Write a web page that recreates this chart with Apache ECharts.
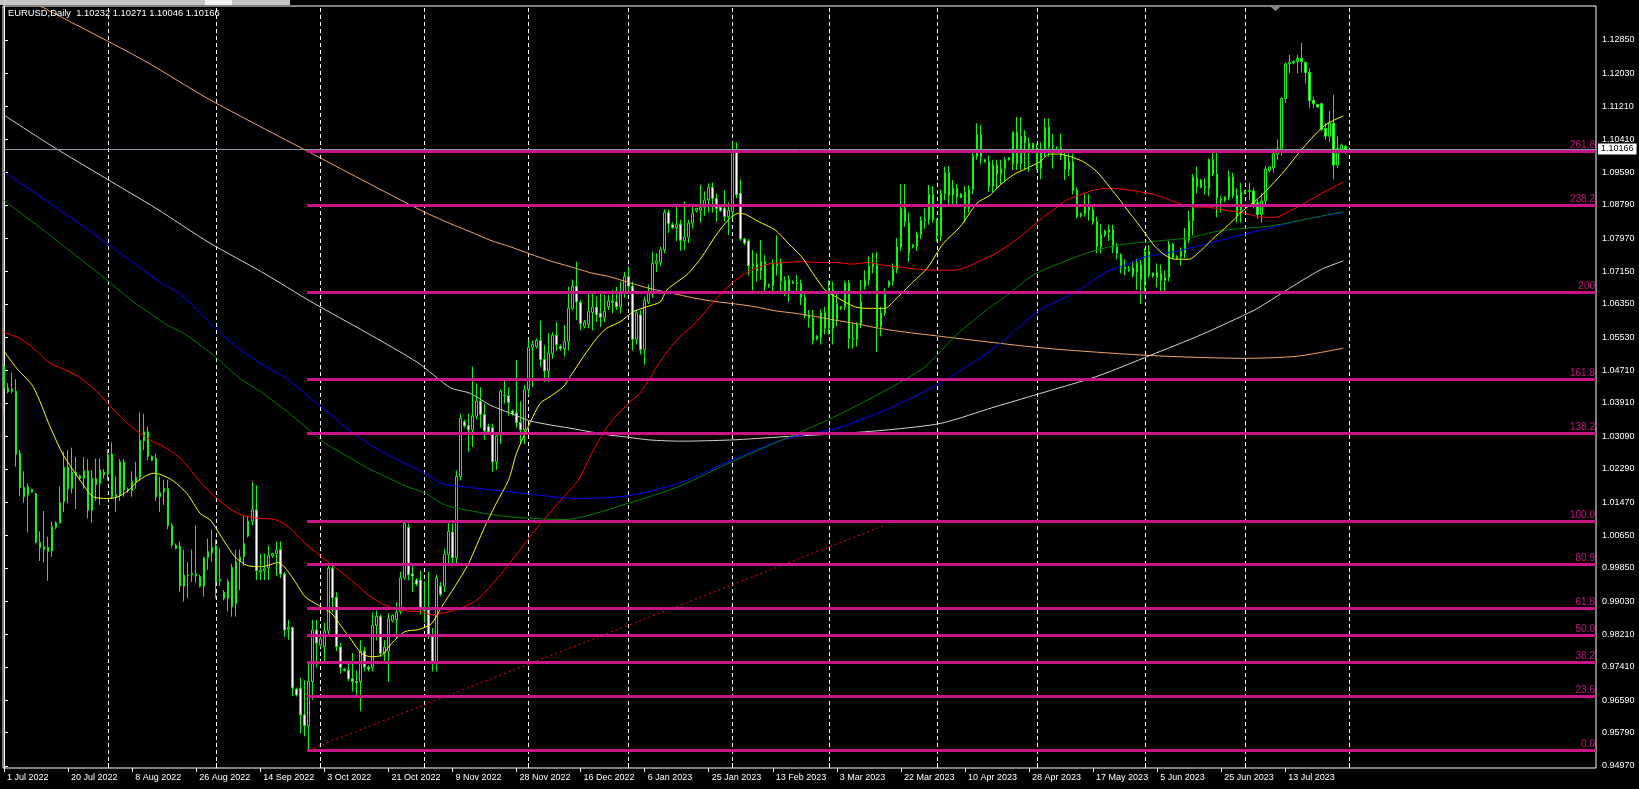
<!DOCTYPE html>
<html><head><meta charset="utf-8">
<script src="https://cdn.jsdelivr.net/npm/echarts@6/dist/echarts.min.js"></script>
<style>html,body{margin:0;padding:0;background:#000;overflow:hidden}#c{width:1639px;height:789px;}</style>
</head><body><div id="c"></div>
<script>
const chartTitle = 'EURUSD,Daily  1.10232 1.10271 1.10046 1.10166';
const currentPrice = 1.10166;
const dateLabels = ['1 Jul 2022','20 Jul 2022','8 Aug 2022','26 Aug 2022','14 Sep 2022','3 Oct 2022','21 Oct 2022','9 Nov 2022','28 Nov 2022','16 Dec 2022','6 Jan 2023','25 Jan 2023','13 Feb 2023','3 Mar 2023','22 Mar 2023','10 Apr 2023','28 Apr 2023','17 May 2023','5 Jun 2023','25 Jun 2023','13 Jul 2023'];
const dateLabelIndex = [0,16,32,48,64,80,96,112,128,144,160,176,192,208,224,240,256,272,288,304,320];
const monthStartIndex = [26,53,79,105,131,156,182,206,233,258,285,310,336];
const priceTicks = [1.12850,1.12030,1.11210,1.10410,1.09590,1.08790,1.07970,1.07150,1.06350,1.05530,1.04710,1.03910,1.03090,1.02290,1.01470,1.00650,0.99850,0.99030,0.98210,0.97410,0.96590,0.95790,0.94970];
const fibLevels = [0.95362,0.96692,0.97522,0.98187,0.98843,0.99936,1.00986,1.0317,1.0450,1.06636,1.08769,1.10116];
const fibNames = ['0.0','23.6','38.2','50.0','61.8','80.9','100.0','138.2','161.8','200','238.2','261.8'];
const fibStartIndex = 75.7;
const trendLine = [[76,0.95362],[219.5,1.0088]];
// daily bars: [open, high, low, close]
const ohlc = [
[1.0482,1.0486,1.0366,1.0427],[1.0427,1.0440,1.0415,1.0419],[1.0420,1.0466,1.0415,1.0425],[1.0420,1.0450,1.0234,1.0265],[1.0267,1.0275,1.0162,1.0183],[1.0183,1.0223,1.0145,1.0160],[1.0164,1.0193,1.0072,1.0185],[1.0178,1.0180,1.0170,1.0172],
[1.0168,1.0170,1.0045,1.0048],[1.0048,1.0075,1.0002,1.0035],[1.0037,1.0125,0.9998,1.0030],[1.0035,1.0062,0.9953,1.0026],[1.0026,1.0099,1.0012,1.0087],[1.0085,1.0100,1.0080,1.0096],[1.0095,1.0185,1.0095,1.0146],[1.0148,1.0271,1.0123,1.0233],
[1.0233,1.0275,1.0144,1.0179],[1.0180,1.0281,1.0168,1.0220],[1.0220,1.0258,1.0130,1.0214],[1.0212,1.0215,1.0200,1.0205],[1.0205,1.0258,1.0180,1.0224],[1.0224,1.0252,1.0107,1.0127],[1.0127,1.0226,1.0096,1.0205],[1.0205,1.0254,1.0150,1.0190],
[1.0193,1.0254,1.0140,1.0226],[1.0220,1.0228,1.0205,1.0214],[1.0216,1.0277,1.0200,1.0265],[1.0265,1.0294,1.0155,1.0160],[1.0160,1.0210,1.0123,1.0165],[1.0165,1.0253,1.0150,1.0246],[1.0246,1.0253,1.0160,1.0177],[1.0178,1.0183,1.0170,1.0175],
[1.0175,1.0223,1.0160,1.0198],[1.0196,1.0246,1.0180,1.0208],[1.0208,1.0368,1.0200,1.0298],[1.0298,1.0364,1.0275,1.0320],[1.0320,1.0333,1.0250,1.0259],[1.0259,1.0262,1.0248,1.0250],[1.0255,1.0267,1.0150,1.0160],[1.0160,1.0210,1.0123,1.0170],
[1.0172,1.0202,1.0140,1.0180],[1.0180,1.0202,1.0080,1.0089],[1.0089,1.0095,1.0035,1.0041],[1.0040,1.0045,1.0030,1.0033],[1.0038,1.0050,0.9926,0.9940],[0.9940,1.0030,0.9902,0.9967],[0.9966,0.9999,0.9910,0.9968],[0.9968,1.0030,0.9950,0.9972],
[0.9970,1.0090,0.9948,0.9965],[0.9963,0.9968,0.9937,0.9940],[0.9940,1.0012,0.9914,1.0010],[1.0011,1.0057,0.9980,1.0025],[1.0022,1.0079,1.0000,1.0035],[1.0040,1.0055,0.9910,0.9951],[0.9952,1.0033,0.9940,0.9956],[0.9925,0.9930,0.9905,0.9910],
[0.9910,0.9956,0.9877,0.9951],[0.9986,0.9995,0.9865,0.9889],[0.9897,1.0030,0.9865,1.0000],[1.0000,1.0030,0.9930,1.0012],[1.0012,1.0114,0.9990,1.0045],[1.0063,1.0110,1.0060,1.0100],[1.0100,1.0197,1.0090,1.0129],[1.0128,1.0188,0.9955,0.9978],
[0.9975,1.0020,0.9955,0.9980],[0.9978,1.0020,0.9955,0.9983],[0.9985,1.0040,0.9955,1.0015],[1.0015,1.0022,1.0010,1.0020],[1.0020,1.0050,0.9965,1.0028],[1.0030,1.0050,0.9960,0.9970],[0.9970,0.9975,0.9815,0.9832],[0.9834,0.9857,0.9808,0.9838],
[0.9838,0.9840,0.9670,0.9690],[0.9686,0.9690,0.9668,0.9672],[0.9688,0.9715,0.9578,0.9623],[0.9623,0.9708,0.9570,0.9596],[0.9596,0.9750,0.9536,0.9705],[0.9705,0.9857,0.9660,0.9832],[0.9832,0.9857,0.9740,0.9800],[0.9795,0.9815,0.9790,0.9810],
[0.9790,0.9850,0.9750,0.9830],[0.9830,0.9999,0.9815,0.9984],[0.9984,0.9998,0.9875,0.9912],[0.9912,0.9925,0.9780,0.9791],[0.9790,0.9800,0.9725,0.9740],[0.9735,0.9738,0.9730,0.9732],[0.9733,0.9753,0.9706,0.9712],[0.9712,0.9775,0.9680,0.9705],
[0.9705,0.9732,0.9671,0.9703],[0.9705,0.9807,0.9632,0.9780],[0.9780,0.9790,0.9730,0.9741],[0.9740,0.9745,0.9730,0.9736],[0.9740,0.9875,0.9730,0.9843],[0.9843,0.9880,0.9806,0.9865],[0.9865,0.9870,0.9765,0.9775],[0.9775,0.9807,0.9755,0.9790],
[0.9780,0.9873,0.9704,0.9860],[0.9855,0.9870,0.9850,0.9868],[0.9858,0.9900,0.9810,0.9875],[0.9878,0.9975,0.9870,0.9960],[0.9960,1.0095,0.9955,1.0094],[1.0085,1.0094,0.9955,0.9968],[0.9970,0.9990,0.9925,0.9965],[0.9955,0.9960,0.9940,0.9945],
[0.9955,0.9978,0.9870,0.9882],[0.9880,0.9952,0.9850,0.9882],[0.9882,0.9975,0.9810,0.9817],[0.9817,0.9837,0.9730,0.9750],[0.9750,0.9968,0.9730,0.9960],[0.9940,0.9950,0.9915,0.9920],[0.9940,1.0032,0.9925,1.0018],[1.0018,1.0095,0.9995,1.0075],
[1.0073,1.0095,0.9990,1.0010],[1.0010,1.0225,0.9990,1.0210],[1.0210,1.0365,1.0200,1.0353],[1.0345,1.0350,1.0330,1.0335],[1.0335,1.0365,1.0270,1.0325],[1.0325,1.0481,1.0283,1.0359],[1.0358,1.0439,1.0350,1.0396],[1.0396,1.0430,1.0330,1.0363],
[1.0363,1.0390,1.0300,1.0323],[1.0333,1.0340,1.0315,1.0320],[1.0330,1.0340,1.0222,1.0246],[1.0246,1.0320,1.0226,1.0310],[1.0312,1.0425,1.0290,1.0420],[1.0410,1.0449,1.0390,1.0409],[1.0409,1.0430,1.0360,1.0392],[1.0371,1.0375,1.0360,1.0365],
[1.0367,1.0497,1.0330,1.0343],[1.0343,1.0395,1.0290,1.0325],[1.0325,1.0435,1.0290,1.0424],[1.0424,1.0545,1.0410,1.0528],[1.0528,1.0545,1.0430,1.0535],[1.0530,1.0550,1.0525,1.0545],[1.0545,1.0594,1.0480,1.0498],[1.0498,1.0533,1.0443,1.0470],
[1.0470,1.0563,1.0443,1.0513],[1.0513,1.0565,1.0500,1.0558],[1.0558,1.0590,1.0520,1.0535],[1.0530,1.0535,1.0520,1.0525],[1.0525,1.0583,1.0505,1.0543],[1.0543,1.0677,1.0520,1.0624],[1.0624,1.0695,1.0620,1.0679],[1.0679,1.0739,1.0595,1.0640],
[1.0639,1.0645,1.0570,1.0587],[1.0580,1.0595,1.0575,1.0590],[1.0585,1.0661,1.0575,1.0616],[1.0614,1.0660,1.0570,1.0627],[1.0627,1.0653,1.0590,1.0608],[1.0612,1.0661,1.0578,1.0602],[1.0602,1.0657,1.0590,1.0617],[1.0628,1.0657,1.0620,1.0642],
[1.0638,1.0670,1.0612,1.0642],[1.0640,1.0677,1.0620,1.0628],[1.0628,1.0690,1.0612,1.0662],[1.0662,1.0714,1.0650,1.0702],[1.0702,1.0727,1.0660,1.0679],[1.0679,1.0690,1.0520,1.0548],[1.0548,1.0620,1.0535,1.0613],[1.0608,1.0620,1.0510,1.0523],
[1.0523,1.0653,1.0485,1.0644],[1.0640,1.0683,1.0635,1.0663],[1.0663,1.0763,1.0650,1.0735],[1.0735,1.0760,1.0714,1.0741],[1.0738,1.0776,1.0728,1.0768],[1.0768,1.0868,1.0760,1.0860],[1.0860,1.0867,1.0810,1.0833],[1.0830,1.0835,1.0820,1.0823],
[1.0823,1.0875,1.0790,1.0830],[1.0831,1.0842,1.0766,1.0792],[1.0791,1.0887,1.0768,1.0800],[1.0799,1.0842,1.0785,1.0834],[1.0834,1.0880,1.0820,1.0858],[1.0865,1.0872,1.0860,1.0870],[1.0866,1.0928,1.0835,1.0873],[1.0873,1.0912,1.0852,1.0891],
[1.0891,1.0932,1.0860,1.0922],[1.0922,1.0934,1.0860,1.0895],[1.0895,1.0907,1.0838,1.0870],[1.0873,1.0876,1.0862,1.0865],[1.0870,1.0915,1.0838,1.0850],[1.0850,1.0885,1.0805,1.0865],[1.0862,1.1035,1.0845,1.1012],[1.1012,1.1033,1.0895,1.0904],
[1.0907,1.0942,1.0790,1.0795],[1.0795,1.0798,1.0780,1.0785],[1.0790,1.0795,1.0705,1.0729],[1.0728,1.0768,1.0669,1.0733],[1.0733,1.0760,1.0690,1.0717],[1.0717,1.0792,1.0695,1.0739],[1.0739,1.0755,1.0665,1.0678],[1.0680,1.0685,1.0675,1.0683],
[1.0680,1.0745,1.0662,1.0733],[1.0730,1.0804,1.0705,1.0736],[1.0736,1.0747,1.0660,1.0692],[1.0692,1.0703,1.0655,1.0665],[1.0665,1.0706,1.0640,1.0695],[1.0690,1.0693,1.0684,1.0687],[1.0687,1.0706,1.0665,1.0685],[1.0685,1.0695,1.0632,1.0651],
[1.0651,1.0660,1.0600,1.0606],[1.0606,1.0620,1.0577,1.0600],[1.0600,1.0620,1.0535,1.0545],[1.0548,1.0558,1.0545,1.0555],[1.0552,1.0622,1.0535,1.0613],[1.0613,1.0628,1.0560,1.0575],[1.0575,1.0693,1.0560,1.0669],[1.0669,1.0690,1.0535,1.0575],
[1.0596,1.0660,1.0580,1.0636],[1.0625,1.0630,1.0620,1.0628],[1.0628,1.0692,1.0620,1.0686],[1.0686,1.0694,1.0525,1.0550],[1.0550,1.0588,1.0525,1.0548],[1.0548,1.0590,1.0530,1.0585],[1.0585,1.0694,1.0575,1.0640],[1.0678,1.0718,1.0670,1.0694],
[1.0694,1.0752,1.0680,1.0728],[1.0728,1.0760,1.0710,1.0733],[1.0733,1.0763,1.0516,1.0579],[1.0579,1.0628,1.0555,1.0613],[1.0613,1.0673,1.0605,1.0665],[1.0680,1.0693,1.0675,1.0690],[1.0690,1.0735,1.0680,1.0720],[1.0720,1.0797,1.0710,1.0775],
[1.0775,1.0930,1.0765,1.0870],[1.0870,1.0930,1.0825,1.0838],[1.0835,1.0860,1.0739,1.0761],[1.0780,1.0782,1.0772,1.0776],[1.0776,1.0813,1.0765,1.0807],[1.0807,1.0850,1.0795,1.0841],[1.0840,1.0870,1.0820,1.0843],[1.0843,1.0928,1.0830,1.0905],
[1.0905,1.0925,1.0835,1.0843],[1.0842,1.0845,1.0789,1.0802],[1.0802,1.0917,1.0790,1.0907],[1.0907,1.0973,1.0890,1.0958],[1.0958,1.0975,1.0880,1.0903],[1.0903,1.0940,1.0880,1.0920],[1.0920,1.0930,1.0880,1.0900],[1.0905,1.0908,1.0895,1.0898],
[1.0910,1.0925,1.0836,1.0870],[1.0870,1.0927,1.0860,1.0917],[1.0917,1.1010,1.0905,1.0999],[1.0999,1.1080,1.0990,1.1052],[1.1052,1.1075,1.0978,1.0998],[1.0990,1.0992,1.0983,1.0985],[1.0985,1.1001,1.0910,1.0925],[1.0925,1.0990,1.0910,1.0977],
[1.0977,1.0990,1.0920,1.0955],[1.0955,1.0990,1.0930,1.0969],[1.0969,1.0997,1.0935,1.0991],[1.0990,1.0997,1.0988,1.0995],[1.0979,1.1060,1.0965,1.1058],[1.1058,1.1095,1.0965,1.0980],[1.0980,1.1095,1.0965,1.1048],[1.1048,1.1063,1.0965,1.1032],
[1.1030,1.1045,1.0960,1.1018],[1.1030,1.1032,1.1008,1.1010],[1.1010,1.1030,1.0965,1.0969],[1.0969,1.1033,1.0942,1.1016],[1.1016,1.1092,1.0997,1.1070],[1.1070,1.1092,1.0998,1.1022],[1.1022,1.1053,1.0968,1.1025],[1.1020,1.1023,1.1015,1.1019],
[1.1020,1.1055,1.0990,1.1000],[1.1000,1.1015,1.0940,1.0967],[1.0967,1.1005,1.0950,1.0985],[1.0985,1.1005,1.0905,1.0915],[1.0915,1.0922,1.0845,1.0850],[1.0852,1.0860,1.0848,1.0857],[1.0857,1.0905,1.0850,1.0876],[1.0876,1.0905,1.0840,1.0866],
[1.0866,1.0875,1.0830,1.0838],[1.0838,1.0850,1.0760,1.0776],[1.0776,1.0832,1.0760,1.0806],[1.0805,1.0818,1.0800,1.0815],[1.0812,1.0830,1.0790,1.0818],[1.0818,1.0830,1.0760,1.0775],[1.0775,1.0785,1.0745,1.0760],[1.0755,1.0760,1.0710,1.0725],
[1.0725,1.0745,1.0705,1.0722],[1.0720,1.0728,1.0714,1.0717],[1.0723,1.0740,1.0700,1.0706],[1.0713,1.0746,1.0670,1.0735],[1.0731,1.0743,1.0635,1.0696],[1.0690,1.0772,1.0665,1.0764],[1.0764,1.0780,1.0700,1.0706],[1.0704,1.0712,1.0700,1.0711],
[1.0700,1.0735,1.0676,1.0713],[1.0710,1.0732,1.0667,1.0693],[1.0693,1.0718,1.0665,1.0700],[1.0700,1.0790,1.0690,1.0782],[1.0782,1.0785,1.0745,1.0750],[1.0747,1.0755,1.0745,1.0752],[1.0752,1.0774,1.0730,1.0765],[1.0760,1.0822,1.0748,1.0792],
[1.0792,1.0864,1.0785,1.0840],[1.0840,1.0955,1.0804,1.0948],[1.0945,1.0973,1.0907,1.0924],[1.0940,1.0942,1.0920,1.0922],[1.0925,1.0945,1.0904,1.0922],[1.0920,1.0994,1.0900,1.0990],[1.0990,1.1012,1.0950,1.0955],[1.0955,1.1012,1.0848,1.0897],
[1.0893,1.0900,1.0860,1.0890],[1.0890,1.0900,1.0885,1.0898],[1.0898,1.0963,1.0890,1.0947],[1.0947,1.0958,1.0895,1.0902],[1.0902,1.0920,1.0835,1.0852],[1.0866,1.0933,1.0835,1.0910],[1.0908,1.0915,1.0905,1.0912],[1.0912,1.0933,1.0890,1.0915],
[1.0913,1.0921,1.0870,1.0880],[1.0884,1.0892,1.0845,1.0855],[1.0855,1.0907,1.0835,1.0889],[1.0889,1.0975,1.0880,1.0967],[1.0964,1.0975,1.0960,1.0972],[1.0970,1.1010,1.0958,1.1005],[1.1004,1.1040,1.0990,1.1017],[1.1017,1.1145,1.1000,1.1141],
[1.1141,1.1230,1.1130,1.1226],[1.1226,1.1248,1.1203,1.1230],[1.1229,1.1235,1.1225,1.1232],[1.1232,1.1248,1.1203,1.1240],[1.1240,1.1278,1.1205,1.1232],[1.1230,1.1231,1.1178,1.1205],[1.1205,1.1215,1.1117,1.1136],[1.1136,1.1145,1.1118,1.1128],
[1.1126,1.1128,1.1118,1.1120],[1.1128,1.1131,1.1060,1.1065],[1.1067,1.1080,1.1040,1.1048],[1.1048,1.1110,1.1033,1.1080],[1.1080,1.1150,1.0942,1.0977],[1.0977,1.1048,1.0970,1.1018],[1.1015,1.1030,1.1012,1.1026],[1.10232,1.10271,1.10046,1.10166]
];
// moving averages: [bar index, price]
const maYellow = [[0,1.0519],[3.2,1.0476],[7.3,1.0431],[11.5,1.0333],[14.8,1.0263],[19,1.0201],[22.3,1.0160],[25.7,1.0156],[28.2,1.0159],[31,1.0175],[33.2,1.0197],[35.7,1.0213],[37.3,1.0218],[39.4,1.0214],[42.3,1.0199],[45.7,1.0168],[49,1.0119],[51.5,1.0103],[54,1.0066],[57.7,1.0012],[61,0.9990],[64.4,0.9988],[68.5,0.9998],[71.9,0.9963],[75.2,0.9914],[78.5,0.9893],[81.8,0.9873],[84.3,0.9840],[86.8,0.9807],[89.3,0.9774],[91.8,0.9766],[94.3,0.9770],[96.8,0.9799],[100.1,0.9828],[103.5,0.9833],[106.8,0.9848],[109.3,0.9889],[112.6,0.9939],[116,0.9995],[120,1.0085],[123,1.0145],[126,1.0201],[128,1.0267],[130.5,1.0324],[133.9,1.0390],[136.4,1.0407],[139.7,1.0431],[141.4,1.0456],[144.7,1.0505],[148,1.0550],[150.5,1.0575],[153.9,1.0591],[157.2,1.0616],[160.5,1.0628],[163.9,1.0640],[165.5,1.0669],[168.8,1.0694],[170.9,1.0710],[174.3,1.0751],[177.6,1.0801],[180.9,1.0842],[183.4,1.0858],[185.1,1.0856],[188.4,1.0838],[192.6,1.0817],[195.9,1.0784],[199.2,1.0751],[202.6,1.0702],[205.1,1.0669],[208.4,1.0649],[212.5,1.0628],[215.9,1.0624],[220,1.0624],[222.5,1.0645],[225,1.0669],[227.1,1.0690],[230.5,1.0722],[234.6,1.0784],[238.8,1.0825],[243,1.0883],[246.3,1.0903],[248.8,1.0928],[252.1,1.0953],[255.4,1.0969],[258.7,1.0985],[261.2,1.1004],[263.7,1.1004],[266.2,1.0998],[269.6,1.0985],[272.9,1.0961],[276.2,1.0922],[278.7,1.0891],[281.2,1.0858],[282.5,1.0842],[285,1.0809],[287.5,1.0776],[290,1.0755],[292.5,1.0745],[295.9,1.0745],[299.1,1.0768],[302.5,1.0801],[305.8,1.0829],[309.1,1.0862],[313.3,1.0895],[316.6,1.0928],[320,1.0965],[323.3,1.1006],[326.6,1.1043],[330,1.1076],[334.5,1.1098]];
const maRed = [[0,1.0565],[4,1.0550],[7.3,1.0526],[11.5,1.0489],[15.7,1.0471],[19.8,1.0448],[24,1.0411],[28.2,1.0366],[32.3,1.0329],[36.5,1.0300],[40.7,1.0279],[44.8,1.0247],[49,1.0197],[53.2,1.0156],[56.5,1.0130],[59.4,1.0115],[63.5,1.0107],[67.7,1.0104],[71,1.0086],[75.2,1.0045],[79.3,1.0012],[83.5,0.9980],[87.7,0.9947],[91,0.9918],[95.2,0.9893],[100.2,0.9879],[104.3,0.9877],[106.8,0.9869],[109.3,0.9873],[112.6,0.9881],[118,0.9905],[125,0.9980],[132,1.0070],[138,1.0140],[143.4,1.0201],[147.2,1.0275],[151.3,1.0341],[155.5,1.0386],[158.8,1.0415],[161.3,1.0452],[164.7,1.0505],[168.8,1.0554],[172.6,1.0587],[177.6,1.0645],[181.8,1.0686],[186,1.0715],[191,1.0733],[195.2,1.0737],[199.3,1.0739],[203.4,1.0737],[207.6,1.0737],[211.8,1.0733],[215.9,1.0737],[219.2,1.0731],[222.5,1.0727],[228.8,1.0720],[233.8,1.0718],[237.1,1.0718],[240.5,1.0726],[243.8,1.0741],[248,1.0761],[252.1,1.0788],[255.4,1.0813],[258.7,1.0842],[262,1.0866],[265.4,1.0891],[268.7,1.0903],[272,1.0915],[276.2,1.0920],[281.2,1.0915],[286.6,1.0906],[290,1.0895],[293.3,1.0883],[296.6,1.0874],[300.8,1.0873],[305,1.0866],[309.1,1.0860],[313.3,1.0850],[315.8,1.0848],[318.3,1.0850],[321.6,1.0866],[325,1.0884],[328.3,1.0903],[331.6,1.0920],[334.5,1.0935]];
const maGreen = [[0,1.0890],[12,1.0800],[25.7,1.0694],[32.3,1.0640],[36.5,1.0612],[40.7,1.0583],[44.8,1.0563],[49,1.0534],[53.2,1.0501],[56.5,1.0472],[59.4,1.0448],[63.5,1.0423],[70.2,1.0374],[75.2,1.0333],[80.2,1.0292],[85.2,1.0263],[90.2,1.0234],[95.2,1.0210],[100.2,1.0187],[105.2,1.0169],[109.3,1.0144],[112.6,1.0133],[125,1.0112],[140,1.0104],[155.6,1.0143],[168.7,1.0186],[181.7,1.0246],[194.8,1.0302],[207.8,1.0359],[220.9,1.0426],[230,1.0480],[238,1.0560],[245.4,1.0620],[251.2,1.0661],[257,1.0706],[263.7,1.0735],[270.4,1.0760],[276.2,1.0776],[281.2,1.0784],[288.3,1.0790],[296.6,1.0799],[302.5,1.0813],[309.1,1.0821],[314.9,1.0825],[319.9,1.0833],[325.8,1.0845],[334.5,1.0862]];
const maBlue = [[0,1.0960],[20,1.0825],[38.2,1.0694],[44.8,1.0653],[49,1.0612],[53.2,1.0571],[56.5,1.0542],[63,1.0495],[71,1.0448],[76,1.0407],[80.2,1.0374],[85.2,1.0333],[90.2,1.0296],[95.2,1.0267],[100.2,1.0242],[105.2,1.0218],[109.3,1.0193],[112.6,1.0187],[129.5,1.0169],[142.6,1.0156],[155.6,1.0162],[168.7,1.0194],[181.7,1.0250],[194.8,1.0302],[207.8,1.0328],[220.9,1.0377],[234,1.0441],[247,1.0524],[258.7,1.0620],[265.4,1.0653],[270.4,1.0682],[275.4,1.0714],[281.2,1.0735],[285,1.0751],[292.5,1.0764],[300.8,1.0784],[309.1,1.0805],[317.4,1.0825],[325.8,1.0845],[334.5,1.0860]];
const maWhite = [[0,1.1100],[12.1,1.1023],[25.1,1.0946],[38.2,1.0869],[51.2,1.0786],[64.3,1.0714],[77.3,1.0637],[90.4,1.0565],[103.4,1.0490],[111.4,1.0429],[116.4,1.0415],[121.4,1.0386],[126.4,1.0366],[131.4,1.0347],[136.4,1.0337],[141.4,1.0329],[146.4,1.0320],[151.3,1.0312],[156.3,1.0306],[161.3,1.0300],[168.8,1.0297],[181.7,1.0300],[194.8,1.0308],[207.8,1.0315],[220.9,1.0325],[234,1.0341],[247,1.0380],[260,1.0418],[273.1,1.0457],[286.2,1.0508],[299.2,1.0560],[312.3,1.0620],[316.5,1.0645],[323.1,1.0686],[329,1.0720],[334.5,1.0741]];
const maOrange = [[0,1.1420],[9.4,1.1367],[34.7,1.1236],[51.2,1.1139],[76,1.1010],[103.4,1.0869],[111.4,1.0833],[116.4,1.0813],[121.4,1.0792],[126.4,1.0776],[131.4,1.0758],[136.4,1.0741],[141.4,1.0727],[146.4,1.0712],[151.3,1.0702],[156.3,1.0687],[161.3,1.0673],[168.8,1.0657],[172.6,1.0649],[177.6,1.0641],[182.6,1.0635],[187.6,1.0628],[192.6,1.0618],[197.6,1.0612],[202.6,1.0604],[207.6,1.0595],[212.5,1.0587],[217.5,1.0577],[222.5,1.0569],[234,1.0555],[260,1.0526],[286.2,1.0508],[309.7,1.0501],[322.8,1.0506],[334.5,1.0526]];

const FONT = 'Liberation Sans';
const X_MIN = -0.25, X_MAX = 397.6, Y_MIN = 0.94921, Y_MAX = 1.13687;
const FIB_COLOR = '#C71585';

const candleData = ohlc.map((d, i) => [i, d[0], d[3], d[2], d[1]]);

function maSeries(name, data, color) {
  return { name, type: 'line', data, showSymbol: false, symbol: 'none', silent: true, smooth: 0.25,
    lineStyle: { color, width: 1 }, z: 3 };
}

const chart = echarts.init(document.getElementById('c'), null, { renderer: 'canvas' });
chart.setOption({
  backgroundColor: '#000',
  animation: false,
  textStyle: { fontFamily: FONT },
  grid: { left: 3, right: 43, top: 6, bottom: 21, show: true, borderColor: '#ffffff', borderWidth: 1,
          backgroundColor: 'transparent', containLabel: false, outerBoundsMode: 'none' },
  xAxis: [{
    type: 'value', min: X_MIN, max: X_MAX, position: 'bottom',
    axisLine: { show: false },
    axisTick: { show: true, customValues: dateLabelIndex, length: 4, lineStyle: { color: '#fff' } },
    axisLabel: { customValues: dateLabelIndex, formatter: v => dateLabels[dateLabelIndex.indexOf(v)] || '',
      color: '#fff', fontFamily: FONT, fontSize: 9, align: 'left', margin: 5, padding: [0, 0, 0, 3] },
    splitLine: { show: false }
  }, {
    type: 'value', min: X_MIN, max: X_MAX, position: 'bottom',
    axisLine: { show: false }, axisLabel: { show: false },
    axisTick: { show: true, inside: true, length: 5, customValues: monthStartIndex, lineStyle: { color: '#fff' } },
    splitLine: { show: false }
  }],
  yAxis: {
    type: 'value', position: 'right', min: Y_MIN, max: Y_MAX,
    axisLine: { show: true, lineStyle: { color: '#fff' } },
    axisTick: { show: true, customValues: priceTicks, length: 4, lineStyle: { color: '#fff' } },
    axisLabel: { customValues: priceTicks, formatter: v => v.toFixed(5), color: '#fff', fontFamily: FONT, fontSize: 9, margin: 6 },
    splitLine: { show: false }
  },
  series: [
    { type: 'line', data: [], silent: true,
      markLine: { z: 1, silent: true, precision: 5, symbol: ['none', 'none'], label: { show: false },
        lineStyle: { color: '#ffffff', type: [4, 3], width: 1 },
        data: monthStartIndex.map(v => ({ xAxis: v })) } },
    { type: 'candlestick', data: candleData, barWidth: 2, z: 2, silent: true,
      itemStyle: { color: '#000000', color0: '#ffffff', borderColor: '#00ff00', borderColor0: '#00ff00', borderWidth: 1 } },
    maSeries('orange', maOrange, '#F4A460'),
    maSeries('white', maWhite, '#D3D3D3'),
    maSeries('blue', maBlue, '#0000FF'),
    maSeries('green', maGreen, '#008000'),
    maSeries('red', maRed, '#FF0000'),
    maSeries('yellow', maYellow, '#FFFF00'),
    { type: 'line', data: trendLine, showSymbol: false, symbol: 'none', silent: true, z: 4,
      lineStyle: { color: '#FF0000', width: 1, type: [2, 3] } },
    { type: 'line', data: [], silent: true,
      markLine: { z: 6, silent: true, precision: 5, symbol: ['none', 'none'],
        lineStyle: { color: FIB_COLOR, width: 3, type: 'solid' },
        label: { show: true, position: 'insideEndTop', formatter: '{b}', color: FIB_COLOR, fontFamily: FONT, fontSize: 10, distance: [1, 1] },
        data: fibLevels.map((lv, k) => [{ coord: [fibStartIndex, lv], name: fibNames[k] }, { coord: [X_MAX, lv] }]) } },
    { type: 'line', data: [], silent: true,
      markLine: { z: 7, silent: true, precision: 5, symbol: ['none', 'none'],
        lineStyle: { color: '#8C9BAA', width: 1, type: 'solid' },
        label: { show: true, position: 'end', distance: 2, formatter: currentPrice.toFixed(5), color: '#000',
          backgroundColor: '#fff', padding: [1, 3, 1, 3], fontFamily: FONT, fontSize: 9 },
        data: [{ yAxis: currentPrice }] } }
  ],
  graphic: [
    { type: 'rect', shape: { x: 0, y: 0, width: 290, height: 5 }, style: { fill: '#C4C4C4' }, z: 100 },
    { type: 'rect', shape: { x: 205, y: 0, width: 27, height: 5 }, style: { fill: '#F2F2F2' }, z: 101 },
    { type: 'polygon', shape: { points: [[1271, 7], [1280, 7], [1275.5, 11]] }, style: { fill: '#8A8A8A' }, z: 100 },
    { type: 'text', left: 8, top: 9, style: { text: chartTitle, fill: '#ffffff', font: '9.4px "Liberation Sans"' }, z: 100 }
  ]
});
</script>
</body></html>
